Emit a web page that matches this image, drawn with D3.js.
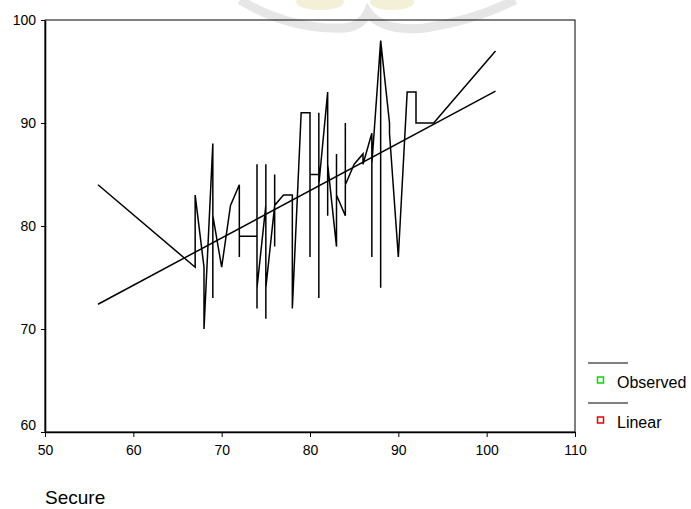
<!DOCTYPE html>
<html>
<head>
<meta charset="utf-8">
<script src="https://cdn.jsdelivr.net/npm/d3@7"></script>
<style>
  body { margin: 0; background: #fff; }
  text { font-family: Arial, "Liberation Sans", sans-serif; }
</style>
</head>
<body>
<div id="chart"></div>
<script>
// observed values, in the order the line visits them (sorted by x)
var obsX = [56,
            67, 67,
            68, 68,
            69, 69, 69,
            70, 71,
            72, 72, 72,
            74, 74, 74, 74,
            75, 75, 75, 75,
            76, 76, 76, 76,
            77,
            78, 78,
            79,
            80, 80, 80,
            81, 81, 81, 81,
            82, 82, 82,
            83, 83, 83,
            84, 84, 84,
            85,
            86, 86,
            87, 87, 87,
            88, 88, 88,
            89, 89,
            90, 91,
            92, 92,
            94, 101];
var obsY = [84,
            76, 83,
            76, 70,
            88, 73, 81,
            76, 82,
            84, 77, 79,
            79, 86, 72, 74,
            82, 86, 71, 74,
            82, 85, 78, 82,
            83,
            83, 72,
            91,
            91, 77, 85,
            85, 91, 73, 84,
            93, 81, 86,
            78, 87, 83,
            81, 90, 84,
            86,
            87, 86,
            89, 77, 86,
            98, 74, 98,
            90, 89,
            77, 93,
            93, 90,
            90, 97];

// linear fit, ends
var fitX = [56, 101];
var fitY = [72.4, 93.1];

var xTicks = [50, 60, 70, 80, 90, 100, 110];
var yTicks = [60, 70, 80, 90, 100];
var legendLabels = ["Observed", "Linear"];
var legendColors = ["#00dd00", "#ee0000"];

var w = 691,
    h = 509,
    svg = d3.select("#chart")
            .append("svg")
            .attr("width", w)
            .attr("height", h);

var x = d3.scaleLinear().domain([50, 110]).range([45, 575]);
var y = d3.scaleLinear().domain([60, 100]).range([432, 20]);

// faint watermark behind the top edge
var wm = svg.append("g").attr("opacity", 0.35);
wm.append("ellipse").attr("cx", 320).attr("cy", 2).attr("rx", 24).attr("ry", 8).attr("fill", "#e0d690");
wm.append("ellipse").attr("cx", 392).attr("cy", 2).attr("rx", 22).attr("ry", 8).attr("fill", "#e0d690");
wm.append("path")
    .attr("d", "M240,0 Q290,30 345,28 Q362,26 368,12 Q382,32 425,28 Q475,20 515,0")
    .attr("fill", "none")
    .attr("stroke", "#b8b8b8")
    .attr("stroke-width", 9);

// plot frame
svg.append("rect")
    .attr("x", x(50)).attr("y", y(100))
    .attr("width", x(110) - x(50)).attr("height", y(60) - y(100))
    .attr("fill", "none")
    .attr("stroke", "#000")
    .attr("stroke-width", 1);

// y axis
var gy = svg.append("g")
    .attr("transform", "translate(" + x(50) + ",0)")
    .call(d3.axisLeft(y).tickValues(yTicks).tickSize(4).tickSizeOuter(0).tickPadding(5));
gy.selectAll("text").attr("font-size", "14px").attr("font-family", "Arial, 'Liberation Sans', sans-serif")
    .attr("dy", function(d) { return d == 60 ? "-0.2em" : "0.32em"; });

// x axis
var gx = svg.append("g")
    .attr("transform", "translate(0," + y(60) + ")")
    .call(d3.axisBottom(x).tickValues(xTicks).tickSize(5).tickSizeOuter(0).tickPadding(8));
gx.selectAll("text").attr("font-size", "14px").attr("font-family", "Arial, 'Liberation Sans', sans-serif");

svg.selectAll(".domain").attr("stroke-width", 1.6);

// observed line
var obs = obsX.map(function(v, i) { return [v, obsY[i]]; });
var line = d3.line()
    .x(function(d) { return x(d[0]); })
    .y(function(d) { return y(d[1]); });

svg.append("path")
    .datum(obs)
    .attr("fill", "none")
    .attr("stroke", "#000")
    .attr("stroke-width", 1.5)
    .attr("stroke-linejoin", "miter")
    .attr("d", line);

// linear fit
svg.append("path")
    .datum(fitX.map(function(v, i) { return [v, fitY[i]]; }))
    .attr("fill", "none")
    .attr("stroke", "#000")
    .attr("stroke-width", 1.5)
    .attr("d", line);

// legend
var lg = svg.append("g").selectAll("g")
    .data(legendLabels)
    .enter().append("g")
    .attr("transform", function(d, i) { return "translate(0," + (i * 40) + ")"; });

lg.append("line")
    .attr("x1", 588).attr("x2", 628)
    .attr("y1", 363).attr("y2", 363)
    .attr("stroke", "#000").attr("stroke-width", 1.2);
lg.append("rect")
    .attr("x", 597.5).attr("y", 377)
    .attr("width", 6).attr("height", 6)
    .attr("fill", "#fff")
    .attr("stroke", function(d, i) { return legendColors[i]; })
    .attr("stroke-width", 1.5);
lg.append("text")
    .attr("x", 617).attr("y", 388)
    .attr("font-size", "16px")
    .attr("fill", "#000")
    .text(function(d) { return d; });

// axis title
svg.append("text")
    .attr("x", 45).attr("y", 504)
    .attr("font-size", "19px")
    .attr("fill", "#000")
    .text("Secure");
</script>
</body>
</html>
